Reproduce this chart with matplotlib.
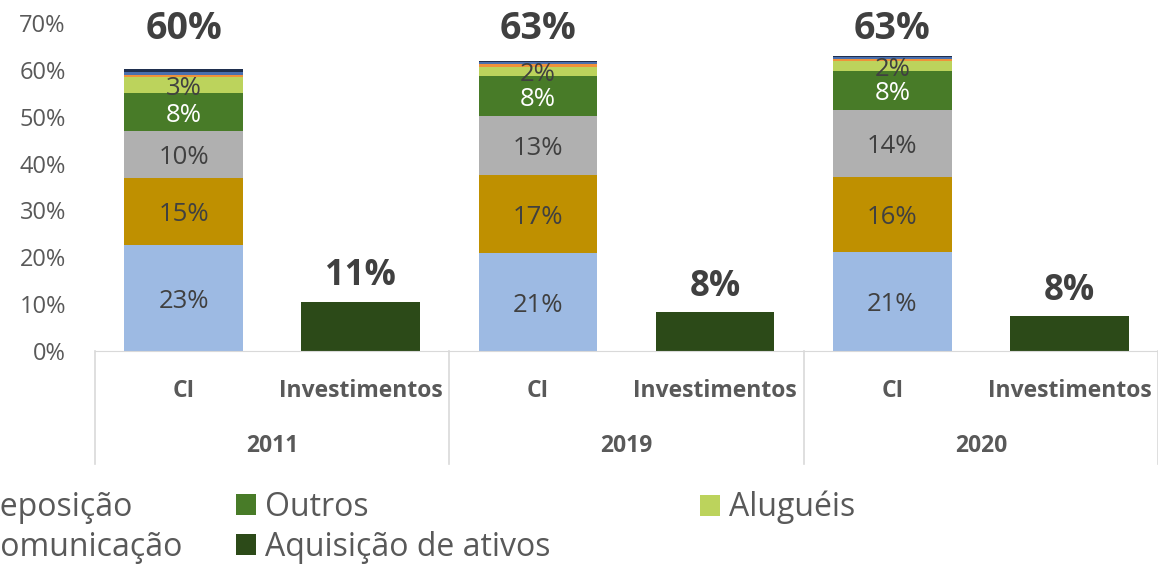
import matplotlib.pyplot as plt
import matplotlib.transforms as mtransforms
from matplotlib.patches import Patch
import numpy as np

plt.rcParams['font.family'] = ['Open Sans', 'DejaVu Sans']

anos = ['2011', '2019', '2020']
subcats = ['CI', 'Investimentos']

# componentes do CI (empilhados, de baixo para cima), em %
series_ci = ['Serviços', 'Reposição', 'Pessoal', 'Outros', 'Aluguéis',
             'Comunicação', 'Energia', 'Água']
valores_ci = {
    'Serviços':    [22.6, 20.9, 21.1],
    'Reposição':   [14.3, 16.6, 16.0],
    'Pessoal':     [10.0, 12.6, 14.3],
    'Outros':      [8.1, 8.5, 8.3],
    'Aluguéis':    [3.4, 2.1, 2.1],
    'Comunicação': [0.6, 0.6, 0.6],
    'Energia':     [0.5, 0.4, 0.4],
    'Água':        [0.6, 0.2, 0.1],
}
rotulos_ci = {
    'Serviços':  ['23%', '21%', '21%'],
    'Reposição': ['15%', '17%', '16%'],
    'Pessoal':   ['10%', '13%', '14%'],
    'Outros':    ['8%', '8%', '8%'],
    'Aluguéis':  ['3%', '2%', '2%'],
}
total_ci = ['60%', '63%', '63%']

investimentos = [10.5, 8.3, 7.5]
rotulos_inv = ['11%', '8%', '8%']

cores = {
    'Serviços': '#9DBAE3',
    'Reposição': '#BF9000',
    'Pessoal': '#B0B0B0',
    'Outros': '#487B28',
    'Aluguéis': '#BCD35C',
    'Comunicação': '#F0913A',
    'Energia': '#4A6FAE',
    'Água': '#1F2F4F',
}
cor_inv = '#2C4A18'
cinza_txt = '#595959'
cinza_lbl = '#404040'

fig = plt.figure(figsize=(11.58, 5.64), dpi=100)
W, H = 1158, 564
ax = fig.add_axes([95 / W, 213 / H, (W - 95) / W, 328 / H])

pos_ci = np.arange(len(anos)) * 2
pos_inv = pos_ci + 1
larg = 0.67

base = np.zeros(len(anos))
for s in series_ci:
    v = np.array(valores_ci[s])
    ax.bar(pos_ci, v, larg, bottom=base, color=cores[s], edgecolor='none')
    if s in rotulos_ci:
        cor = 'white' if s == 'Outros' else cinza_lbl
        for x, b, h, t in zip(pos_ci, base, v, rotulos_ci[s]):
            ax.text(x, b + h / 2, t, ha='center', va='center_baseline',
                    fontsize=18.5, color=cor)
    base += v

for x, tot, t in zip(pos_ci, base, total_ci):
    ax.text(x, 68.7, t, ha='center', va='center', fontsize=27,
            fontweight='bold', color=cinza_lbl)

ax.bar(pos_inv, investimentos, larg, color=cor_inv, edgecolor='none')
for x, v, t in zip(pos_inv, investimentos, rotulos_inv):
    ax.text(x, v + 5.4, t, ha='center', va='center', fontsize=25,
            fontweight='bold', color=cinza_lbl)

ax.set_xlim(-0.5, 5.5)
ax.set_ylim(0, 70)
ax.set_yticks(np.arange(0, 71, 10))
ax.set_yticklabels([f'{v}%' for v in range(0, 71, 10)])
ax.tick_params(axis='y', length=0, labelsize=17, colors=cinza_txt, pad=21)
ax.set_xticks([])
for sp in ['top', 'right', 'left']:
    ax.spines[sp].set_visible(False)
ax.spines['bottom'].set_color('#D9D9D9')

# eixo de categorias em dois níveis
trans = mtransforms.blended_transform_factory(ax.transData, ax.transAxes)
for xs in [-0.5, 1.5, 3.5, 5.5]:
    ax.plot([xs, xs], [0, -0.345], transform=trans, color='#D9D9D9',
            lw=1.2, clip_on=False)
for i, ano in enumerate(anos):
    ax.text(pos_ci[i], -0.122, subcats[0], transform=trans, ha='center',
            va='center', fontsize=16.5, fontweight='bold', color=cinza_txt)
    ax.text(pos_inv[i], -0.122, subcats[1], transform=trans, ha='center',
            va='center', fontsize=16.5, fontweight='bold', color=cinza_txt)
    ax.text(pos_ci[i] + 0.5, -0.29, ano, transform=trans, ha='center',
            va='center', fontsize=16.5, fontweight='bold', color=cinza_txt)

# legenda (parcialmente cortada à esquerda, como no original)
colunas = [
    (-49, ['Reposição', 'Comunicação'], [cores['Reposição'], cores['Comunicação']]),
    (236, ['Outros', 'Aquisição de ativos'], [cores['Outros'], cor_inv]),
    (700, ['Aluguéis'], [cores['Aluguéis']]),
]
for x0, nomes, cs in colunas:
    hs = [Patch(facecolor=c, edgecolor='none') for c in cs]
    fig.legend(hs, nomes, loc='upper left', bbox_to_anchor=(x0 / W, 1 - 491 / H),
               frameon=False, fontsize=23, labelcolor=cinza_txt,
               handlelength=0.62, handleheight=0.62, handletextpad=0.3,
               labelspacing=0.22, borderaxespad=0, borderpad=0)

fig.savefig('out.png', dpi=100)
